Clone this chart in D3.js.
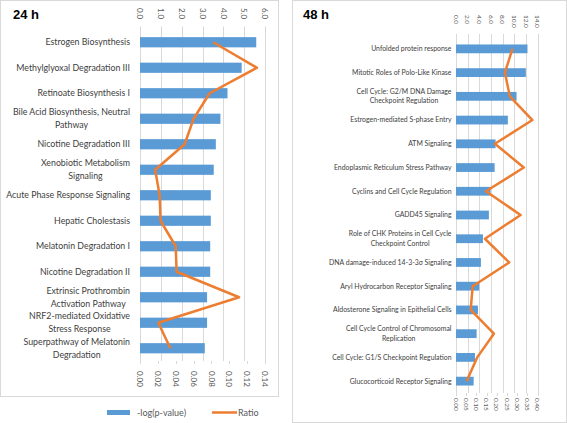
<!DOCTYPE html>
<html><head><meta charset="utf-8">
<script src="https://cdn.jsdelivr.net/npm/d3@7"></script>
<style>body{margin:0;background:#fff}svg{display:block}</style>
</head><body>
<svg id="c" width="567" height="423"></svg>
<script>
// ---- Data ----
const cats24 = ["Estrogen Biosynthesis","Methylglyoxal Degradation III","Retinoate Biosynthesis I","Bile Acid Biosynthesis, Neutral\nPathway","Nicotine Degradation III","Xenobiotic Metabolism\nSignaling","Acute Phase Response Signaling","Hepatic Cholestasis","Melatonin Degradation I","Nicotine Degradation II","Extrinsic Prothrombin\nActivation Pathway","NRF2-mediated Oxidative\nStress Response","Superpathway of Melatonin\nDegradation"];
const logp24 = [5.58,4.88,4.20,3.86,3.64,3.54,3.40,3.40,3.37,3.37,3.22,3.22,3.11];
const ratio24 = [0.082,0.131,0.078,0.060,0.050,0.017,0.022,0.023,0.040,0.041,0.111,0.0205,0.034];
const topTicks24 = [0,1,2,3,4,5,6];
const botTicks24 = [0,0.02,0.04,0.06,0.08,0.10,0.12,0.14];

const cats48 = ["Unfolded protein response","Mitotic Roles of Polo-Like Kinase","Cell Cycle: G2/M DNA Damage\nCheckpoint Regulation","Estrogen-mediated S-phase Entry","ATM Signaling","Endoplasmic Reticulum Stress Pathway","Cyclins and Cell Cycle Regulation","GADD45 Signaling","Role of CHK Proteins in Cell Cycle\nCheckpoint Control","DNA damage-induced 14-3-3σ Signaling","Aryl Hydrocarbon Receptor Signaling","Aldosterone Signaling in Epithelial Cells","Cell Cycle Control of Chromosomal\nReplication","Cell Cycle: G1/S Checkpoint Regulation","Glucocorticoid Receptor Signaling"];
const logp48 = [12.28,12.0,10.4,8.91,6.8,6.63,5.94,5.65,4.63,4.28,4.0,3.77,3.54,3.26,3.03];
const ratio48 = [0.277,0.24,0.264,0.375,0.191,0.333,0.147,0.317,0.142,0.261,0.082,0.072,0.186,0.104,0.052];
const topTicks48 = [0,2,4,6,8,10,12,14];
const botTicks48 = [0,0.05,0.10,0.15,0.20,0.25,0.30,0.35,0.40];

const legendLabels = ["-log(p-value)","Ratio"];

const BAR = "#5B9BD5", LINE = "#ED7D31", GRID = "#d9d9d9", TXT = "#404040", AX = "#595959";
const svg = d3.select("#c");

function panel(o){
  const g = svg.append("g");
  g.append("rect").attr("x",o.box[0]+0.5).attr("y",o.box[1]+0.5).attr("width",o.box[2]-1).attr("height",o.box[3]-1)
    .attr("fill","#fff").attr("stroke","#d9d9d9");
  g.append("text").attr("x",o.titleX).attr("y",19).text(o.title)
    .attr("font-family","Liberation Sans, Arial, sans-serif").attr("font-weight","bold").attr("font-size",13).attr("fill","#000");
  const x = d3.scaleLinear().domain([0,o.topMax]).range([o.x0,o.x1]);
  const x2 = d3.scaleLinear().domain([0,o.botMax]).range([o.x0,o.x1]);
  const y = d3.scaleBand().domain(o.cats).range([o.y0,o.y1]).paddingInner(o.pad).paddingOuter(o.pad/2);
  // gridlines
  g.selectAll(".grid").data(o.topTicks).join("line")
    .attr("x1",d=>Math.round(x(d))+0.5).attr("x2",d=>Math.round(x(d))+0.5)
    .attr("y1",o.y0-3).attr("y2",o.y1).attr("stroke",GRID);
  // bottom ticks
  g.selectAll(".bt").data(o.botTicks).join("line")
    .attr("x1",d=>Math.round(x2(d))+0.5).attr("x2",d=>Math.round(x2(d))+0.5)
    .attr("y1",o.y1).attr("y2",o.y1+3).attr("stroke",GRID);
  // top axis labels
  g.selectAll(".tl").data(o.topTicks).join("text")
    .attr("transform",d=>`translate(${x(d)-o.tickFs*0.35},${o.topLabY}) rotate(90)`)
    .attr("text-anchor","start").attr("font-family","Lato, sans-serif").attr("font-size",o.tickFs).attr("fill",AX)
    .text(d=>d.toFixed(1));
  g.selectAll(".bl").data(o.botTicks).join("text")
    .attr("transform",d=>`translate(${x2(d)-o.tickFs*0.35},${o.botLabY}) rotate(90)`)
    .attr("text-anchor","start").attr("font-family","Lato, sans-serif").attr("font-size",o.tickFs).attr("fill",AX)
    .text(d=>d.toFixed(2));
  // bars
  g.selectAll(".bar").data(o.cats).join("rect")
    .attr("x",x(0)).attr("y",d=>y(d)).attr("height",y.bandwidth())
    .attr("width",(d,i)=>x(o.bars[i])-x(0)).attr("fill",BAR);
  // line
  const line = d3.line().x((d,i)=>x2(d)).y((d,i)=>y(o.cats[i])+y.bandwidth()/2);
  g.append("path").attr("d",line(o.ratio)).attr("fill","none").attr("stroke",LINE)
    .attr("stroke-width",2.5).attr("stroke-linejoin","round");
  // category labels
  o.cats.forEach(c=>{
    const lines = c.split("\n");
    const cy = y(c)+y.bandwidth()/2;
    const t = g.append("text").attr("font-family","Lato, sans-serif").attr("font-size",o.labFs).attr("fill",TXT)
      .attr("text-anchor","middle");
    const n = lines.length;
    const spans = lines.map((l,k)=>t.append("tspan").text(l)
      .attr("y",cy + (k-(n-1)/2)*o.lh + o.labFs*0.35));
    let maxW = 0;
    spans.forEach(s=>{maxW=Math.max(maxW,s.node().getComputedTextLength());});
    spans.forEach(s=>s.attr("x",o.labRight-maxW/2));
  });
}

panel({box:[0,0,279,397], title:"24 h", titleX:13, cats:cats24, bars:logp24, ratio:ratio24,
  topTicks:topTicks24, botTicks:botTicks24, topMax:6, botMax:0.14,
  x0:140, x1:265, y0:29.5, y1:361, pad:0.6, tickFs:8, topLabY:8, botLabY:371,
  labFs:8.8, lh:12.8, labRight:130});
panel({box:[292,0,275,423], title:"48 h", titleX:303, cats:cats48, bars:logp48, ratio:ratio48,
  topTicks:topTicks48, botTicks:botTicks48, topMax:14, botMax:0.40,
  x0:456, x1:537.5, y0:37, y1:393, pad:0.63, tickFs:6.5, topLabY:15, botLabY:398,
  labFs:6.9, lh:9.5, labRight:451.5});

// legend
const lg = svg.append("g").attr("font-family","Lato, sans-serif").attr("font-size",9).attr("fill",AX);
lg.append("rect").attr("x",107).attr("y",410).attr("width",23).attr("height",5).attr("fill",BAR);
lg.append("text").attr("x",137).attr("y",416).text(legendLabels[0]);
lg.append("line").attr("x1",212).attr("x2",237).attr("y1",412.5).attr("y2",412.5).attr("stroke",LINE).attr("stroke-width",2.5);
lg.append("text").attr("x",238).attr("y",416).text(legendLabels[1]);
</script>
</body></html>
